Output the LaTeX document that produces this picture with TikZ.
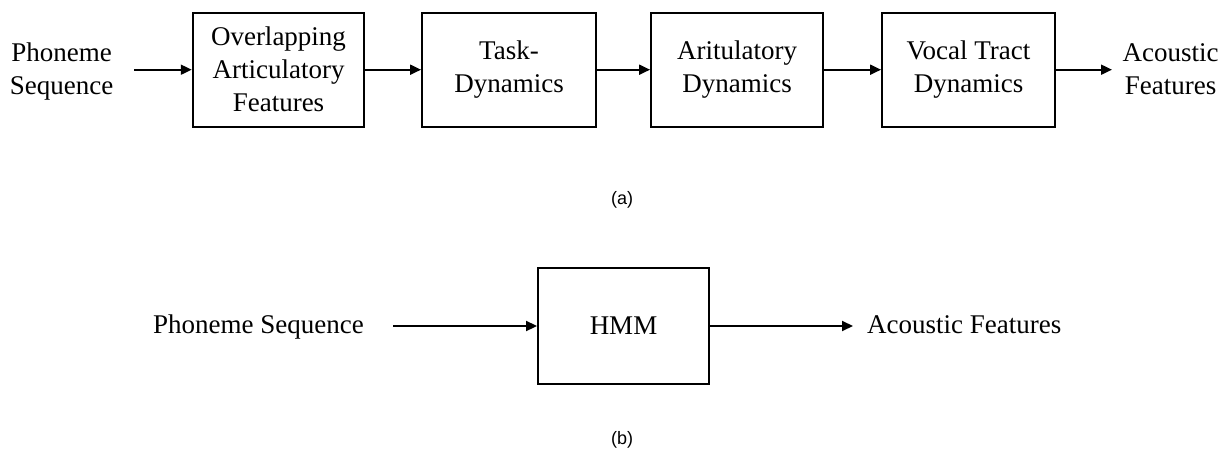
\documentclass[tikz,border=0pt]{standalone}
\usepackage{fontspec}
\setmainfont{Liberation Serif}
\newfontfamily\labelfont{Liberation Sans}
\usetikzlibrary{arrows.meta}
\tikzset{
  blk/.style={draw, line width=1.9pt, inner sep=0pt, align=center,
    font=\fontsize{27}{33}\selectfont},
  txt/.style={inner sep=0pt, align=center, font=\fontsize{27}{33}\selectfont},
  sublabel/.style={inner sep=0pt, font=\labelfont\fontsize{18}{20}\selectfont},
  arr/.style={line width=1.9pt, -{Triangle[length=11pt,width=10pt]}}
}
\begin{document}
\begin{tikzpicture}[x=1pt,y=-1pt]
\useasboundingbox (0,0) rectangle (1222,449);
% (a)
\node[txt] (in) at (61.5,72) {Phoneme\\Sequence};
\node[blk, minimum width=171.6pt, minimum height=114pt] (b1) at (278.5,69.7) {Overlapping\\Articulatory\\Features};
\node[blk, minimum width=174pt, minimum height=114pt] (b2) at (509,69.7) {Task-\\Dynamics};
\node[blk, minimum width=172pt, minimum height=114pt] (b3) at (737,69.7) {Aritulatory\\Dynamics};
\node[blk, minimum width=173pt, minimum height=114pt] (b4) at (968.5,69.7) {Vocal Tract\\Dynamics};
\node[txt] (out) at (1170.5,69.5) {Acoustic\\Features};
\coordinate (s0) at (134,69.7);
\coordinate (e4) at (1112,69.7);
\draw[arr] (s0) -- (b1.west);
\draw[arr] (b1.east) -- (b2.west);
\draw[arr] (b2.east) -- (b3.west);
\draw[arr] (b3.east) -- (b4.west);
\draw[arr] (b4.east) -- (e4);
\node[sublabel] (la) at (622,199.5) {(a)};
% (b)
\node[txt, anchor=base west] (in2) at (153,333) {Phoneme Sequence};
\node[blk, minimum width=171pt, minimum height=116pt] (hmm) at (623.5,326) {HMM};
\node[txt, anchor=base west] (out2) at (867,333) {Acoustic Features};
\coordinate (s5) at (393,326);
\coordinate (e5) at (853,326);
\draw[arr] (s5) -- (hmm.west);
\draw[arr] (hmm.east) -- (e5);
\node[sublabel] (lb) at (622,440) {(b)};
\end{tikzpicture}
\end{document}
